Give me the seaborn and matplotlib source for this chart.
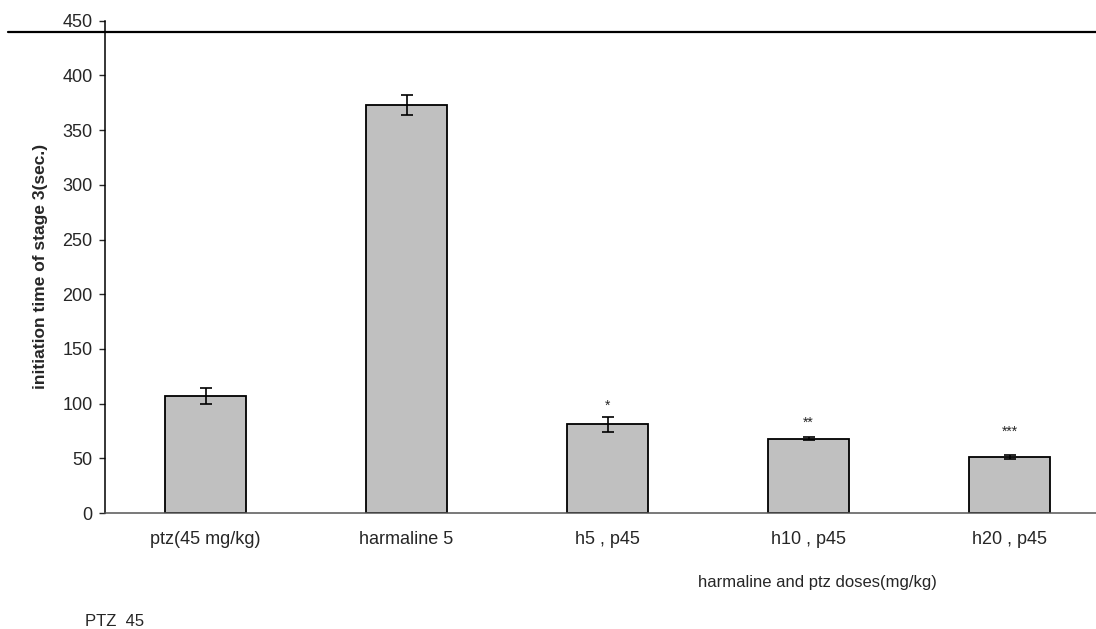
import matplotlib
matplotlib.use("Agg")
import matplotlib.pyplot as plt
from matplotlib.lines import Line2D
import numpy as np
import pandas as pd
import seaborn as sns

# ---------------------------------------------------------------------------
# Data
# ---------------------------------------------------------------------------
groups = ["ptz(45 mg/kg)", "harmaline 5", "h5 , p45", "h10 , p45", "h20 , p45"]
mean_time = [107, 373, 81, 68, 51]
sem_time = [7, 9, 7, 1.5, 2]
stars = ["", "", "*", "**", "***"]
star_offset_pt = [0, 0, 8, 10, 17]

df = pd.DataFrame({"group": groups, "time": mean_time, "sem": sem_time})

# ---------------------------------------------------------------------------
# Style
# ---------------------------------------------------------------------------
sns.set_style("white")
plt.rcParams["font.family"] = ["Liberation Sans", "DejaVu Sans"]

W, H = 1096, 629
fig = plt.figure(figsize=(W / 100, H / 100), dpi=100)
ax = fig.add_axes([105 / W, (H - 513) / H, 1005 / W, (513 - 20.7) / H])

sns.barplot(data=df, x="group", y="time", ax=ax, width=0.4,
            color="#C0C0C0", saturation=1, edgecolor="black",
            linewidth=1.3, errorbar=None)

x = np.arange(len(groups))
ax.errorbar(x, df["time"], yerr=df["sem"], fmt="none", ecolor="black",
            elinewidth=1.2, capsize=4.5, capthick=1.2)

for i, s in enumerate(stars):
    if s:
        ax.annotate(s, (x[i], mean_time[i] + sem_time[i]),
                    xytext=(0, star_offset_pt[i]), textcoords="offset points",
                    ha="center", va="center", fontsize=10)

ax.set_xlim(-0.5, len(groups) - 0.5)
ax.set_ylim(0, 450)
ax.set_yticks(np.arange(0, 451, 50))

ax.set_xticks(x)
ax.set_xticks(np.arange(-0.5, len(groups), 1), minor=True)
ax.tick_params(axis="x", which="major", length=0, pad=13, labelsize=13)
ax.tick_params(axis="x", which="minor", length=4, width=1, color="#444444",
               direction="out")
ax.tick_params(axis="y", length=4, width=1, direction="out", pad=5,
               labelsize=13, left=True)

for side in ["top", "right"]:
    ax.spines[side].set_visible(False)
ax.spines["left"].set_color("black")
ax.spines["left"].set_linewidth(1.1)
ax.spines["bottom"].set_color("#555555")
ax.spines["bottom"].set_linewidth(1.1)

ax.set_xlabel("")
ax.set_ylabel("initiation time of stage 3(sec.)", fontsize=12.5,
              fontweight="bold", labelpad=10)

fig.text(817 / W, 1 - 582 / H, "harmaline and ptz doses(mg/kg)",
         ha="center", va="center", fontsize=12)
fig.text(85 / W, 1 - 622 / H, "PTZ  45", ha="left", va="center", fontsize=12)

# reference line across the top of the figure
fig.add_artist(Line2D([8 / W, 1], [1 - 32 / H, 1 - 32 / H],
                      transform=fig.transFigure, color="black", lw=1.6))

fig.savefig("out.png", dpi=100)
